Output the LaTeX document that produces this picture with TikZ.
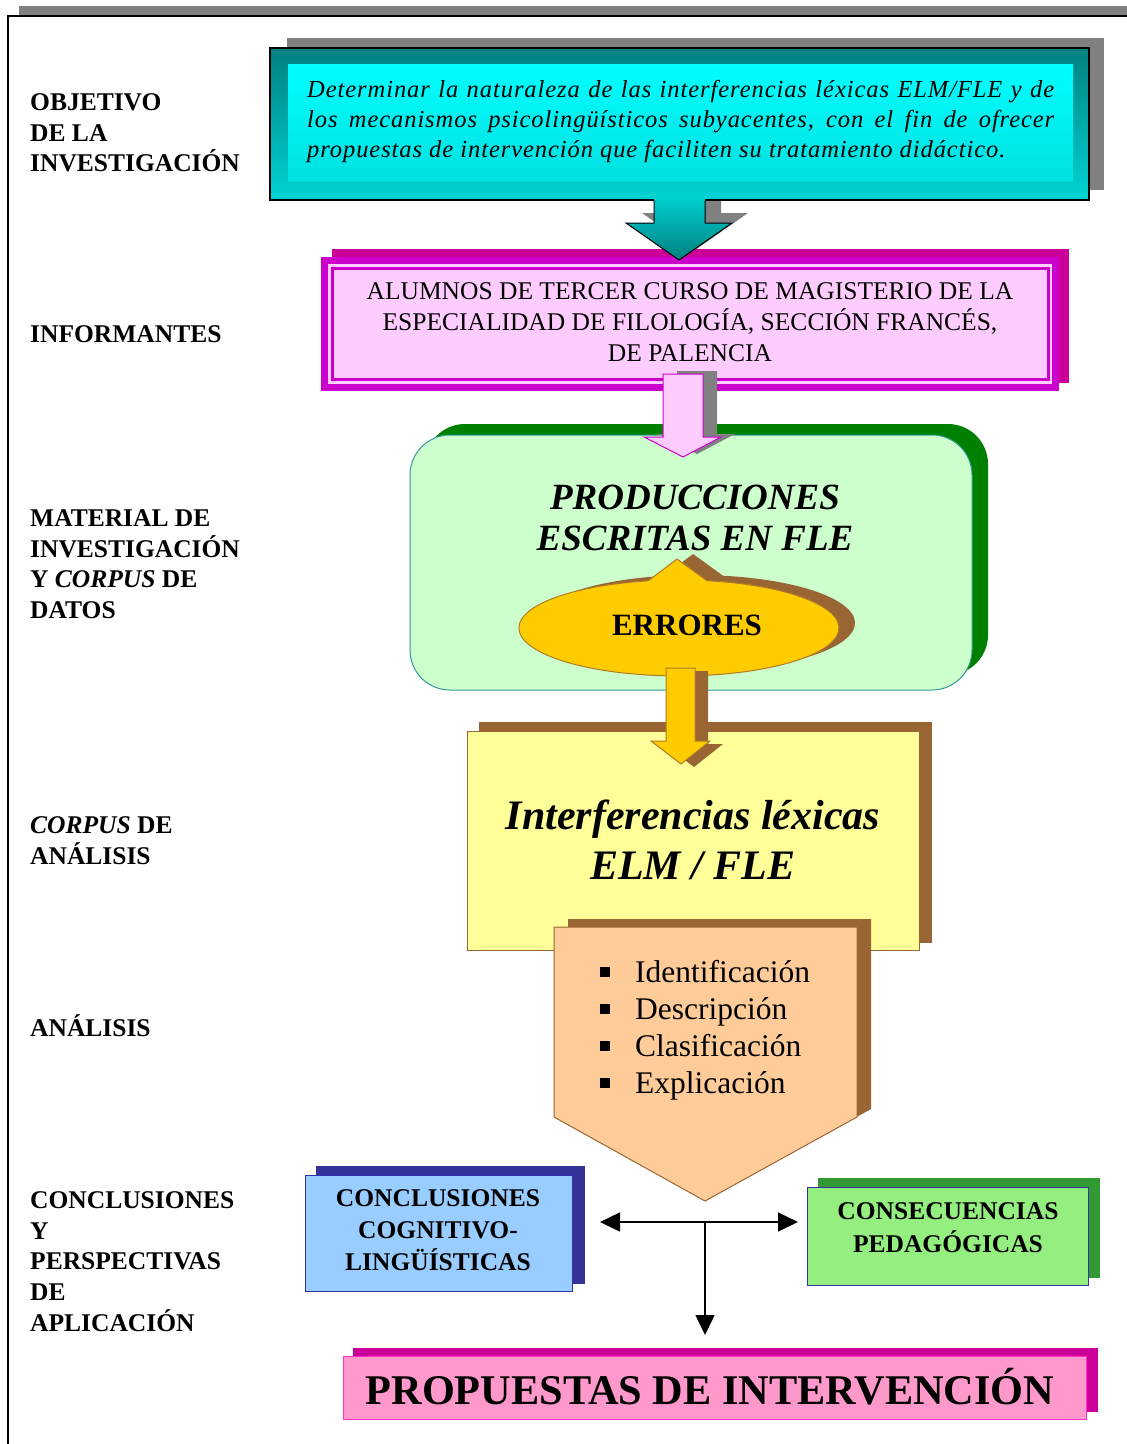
\documentclass[tikz,border=0pt]{standalone}
\usepackage{fontspec}
\setmainfont{Liberation Serif}
\usetikzlibrary{arrows.meta,calc}
\definecolor{shgray}{HTML}{808080}
\definecolor{tealdk}{HTML}{008080}
\definecolor{tealmd}{HTML}{00D4D4}
\definecolor{arrowtop}{HTML}{00CCCC}
\definecolor{cyanlt}{HTML}{00E0E0}
\definecolor{magm}{HTML}{CC00CC}
\definecolor{magsh}{HTML}{CC0099}
\definecolor{pinkl}{HTML}{FFCCFF}
\definecolor{grsh}{HTML}{008000}
\definecolor{grl}{HTML}{CCFFCC}
\definecolor{grbd}{HTML}{339999}
\definecolor{gold}{HTML}{FFCC00}
\definecolor{goldbd}{HTML}{B07A2A}
\definecolor{brown1}{HTML}{996633}
\definecolor{yell}{HTML}{FFFF99}
\definecolor{peach}{HTML}{FFCC99}
\definecolor{bluel}{HTML}{99CCFF}
\definecolor{bluesh}{HTML}{333399}
\definecolor{bluebd}{HTML}{3333AA}
\definecolor{greenl}{HTML}{95EE80}
\definecolor{greensh}{HTML}{339933}
\definecolor{pinkf}{HTML}{FF99CC}
\definecolor{pinkbd}{HTML}{FF33CC}
\newcommand\fsz[2]{\fontsize{#1pt}{#2pt}\selectfont}
\newcommand\tstrut[1]{\rule{0pt}{#1}}
\newcommand\bul{\makebox[35pt][l]{\raisebox{6pt}{\rule{9.5pt}{9.5pt}}}}
\tikzset{
  lbl/.style={anchor=north west, inner sep=0pt, align=left, font=\fsz{25.5}{30.6}\bfseries},
  lblone/.style={anchor=base west, inner sep=0pt, font=\fsz{25.5}{30.6}\bfseries},
  boxnode/.style={anchor=north west, inner sep=0pt, outer sep=0pt},
  txt/.style={anchor=north, inner sep=0pt, align=center},
  conn/.style={line width=1.5pt, draw=black, >={Triangle[length=20pt,width=19pt]}},
}
\begin{document}
\begin{tikzpicture}[x=1pt,y=-1pt]
\useasboundingbox (0,0) rectangle (1127,1444);
\clip (0,0) rectangle (1127,1444);
% frame
\fill[shgray] (19,6) rectangle (1140,16);
\draw[line width=1.3pt] (8,1460) -- (8,16) -- (1140,16);

% left labels
\node[lbl] (l1) at (30,86.5) {\tstrut{24pt}OBJETIVO\\DE LA\\INVESTIGACIÓN};
\node[lblone] (l2) at (30,342.5) {INFORMANTES};
\node[lbl] (l3) at (30,502.5) {\tstrut{24pt}MATERIAL DE\\INVESTIGACIÓN\\Y \textit{CORPUS} DE\\DATOS};
\node[lbl] (l4) at (30,809.5) {\tstrut{24pt}\textit{CORPUS} DE\\ANÁLISIS};
\node[lblone] (l5) at (30,1036.5) {ANÁLISIS};
\node[lbl] (l6) at (30,1184.5) {\tstrut{24pt}CONCLUSIONES\\Y\\PERSPECTIVAS\\DE\\APLICACIÓN};

% box 1 (objective)
\fill[shgray] (287,38) rectangle (1104,190);
\fill[shgray, shift={(16,-10)}] (654,210) -- (654,223) -- (626,223) -- (679,260) -- (732,223) -- (705,223) -- (705,210) -- cycle;
\node[boxnode, draw=black, line width=1.2pt, top color=tealdk, bottom color=tealmd, minimum width=819pt, minimum height=152pt] (obj) at (270,48) {};
\shade[top color=cyan, middle color=cyan, bottom color=cyanlt] (288,64) rectangle (1073,181);
\node[anchor=north west, inner sep=0pt, align=left, font=\fsz{24.5}{30}\itshape\addfontfeature{LetterSpace=3.8}] (objtxt) at (307,74.6)
 {\tstrut{23pt}\makebox[747pt][s]{Determinar la naturaleza de las interferencias léxicas ELM/FLE y de}\\
  \makebox[747pt][s]{los mecanismos psicolingüísticos subyacentes, con el fin de ofrecer}\\
  \makebox[747pt][l]{propuestas de intervención que faciliten su tratamiento didáctico.}};

% box 2 (informantes)
\fill[magsh] (332,249) rectangle (1069,383);
\node[boxnode, fill=magm, minimum width=738pt, minimum height=134pt] (inf) at (321,257) {};
\fill[pinkl] (328,264) rectangle (1052,383.5);
\fill[magm] (331,267) rectangle (1049.5,380.5);
\fill[pinkl] (333.5,269.5) rectangle (1047,378);
\node[txt, font=\fsz{25.5}{31}] (inftxt) at (690,275.5)
 {\tstrut{24pt}ALUMNOS DE TERCER CURSO DE MAGISTERIO DE LA\\ESPECIALIDAD DE FILOLOGÍA, SECCIÓN FRANCÉS,\\DE PALENCIA};

% arrow 1
\shade[top color=arrowtop, bottom color=tealdk] (654,199) -- (654,223) -- (626,223) -- (679,260) -- (732,223) -- (705,223) -- (705,199) -- cycle;
\draw[line width=1pt] (654,200.5) -- (654,223) -- (626,223) -- (679,260) -- (732,223) -- (705,223) -- (705,200.5);

% box 3 (producciones)
\fill[grsh, rounded corners=40pt] (425,424) rectangle (988,675);
\node[boxnode, draw=grbd, line width=1pt, fill=grl, rounded corners=40pt, minimum width=562pt, minimum height=255pt] (prod) at (410,435) {};
\node[txt, font=\fsz{37}{41}\bfseries\itshape] (prodtxt) at (695,474.3) {\tstrut{35pt}PRODUCCIONES\\ESCRITAS EN FLE};

% arrow 2
\fill[shgray, shift={(14,-3)}] (663,374) -- (663,437) -- (644,437) -- (683,457) -- (721,437) -- (703,437) -- (703,374) -- cycle;
\filldraw[fill=pinkl, draw=magm, line width=1pt] (663,374) -- (663,437) -- (644,437) -- (683,457) -- (721,437) -- (703,437) -- (703,374) -- cycle;

% errores callout
\fill[brown1, shift={(16,-5)}] (648,580.9) -- (677,559) -- (707,580.7) arc[start angle=-79.9, end angle=258.8, x radius=160, y radius=48] -- cycle;
\filldraw[fill=gold, draw=goldbd, line width=1pt] (648,580.9) -- (677,559) -- (707,580.7) arc[start angle=-79.9, end angle=258.8, x radius=160, y radius=48] -- cycle;
\node[inner sep=0pt, font=\fsz{31}{35}\bfseries] (err) at (687,625) {ERRORES};

% box 4 (interferencias)
\fill[brown1] (479,722) rectangle (932,943);
\node[boxnode, fill=yell, draw=brown1, line width=1pt, minimum width=452pt, minimum height=219pt] (intf) at (467,731) {};
\node[txt, font=\fsz{42}{50}\bfseries\itshape] (intftxt) at (693,789) {\tstrut{40pt}Interferencias léxicas\\ELM / FLE};

% arrow 3
\fill[brown1, shift={(13,3)}] (666,668) -- (666,741) -- (651,741) -- (681,764) -- (710,741) -- (695,741) -- (695,668) -- cycle;
\filldraw[fill=gold, draw=goldbd, line width=1pt] (666,668) -- (666,741) -- (651,741) -- (681,764) -- (710,741) -- (695,741) -- (695,668) -- cycle;

% pentagon (analisis)
\fill[brown1] (568,919) -- (871,919) -- (871,1109) -- (719,1193) -- (568,1109) -- cycle;
\filldraw[fill=peach, draw=brown1, line width=1pt] (554,927) -- (857,927) -- (857,1117) -- (705,1201) -- (554,1117) -- cycle;
\node[anchor=north west, inner sep=0pt, align=left, font=\fsz{31.5}{37}] (steps) at (600,953.3)
 {\tstrut{29pt}\bul Identificación\\\bul Descripción\\\bul Clasificación\\\bul Explicación};

% conclusiones
\fill[bluesh] (316,1166) rectangle (585,1284);
\node[boxnode, fill=bluel, draw=bluebd, line width=1pt, minimum width=267pt, minimum height=116pt] (conc) at (305,1175) {};
\node[txt, font=\fsz{25.5}{32}\bfseries] (conctxt) at (438,1182.5) {\tstrut{24pt}CONCLUSIONES\\COGNITIVO-\\LINGÜÍSTICAS};

% consecuencias
\fill[greensh] (818,1178) rectangle (1100,1278);
\node[boxnode, fill=greenl, draw=bluebd, line width=1pt, minimum width=281pt, minimum height=98pt] (cons) at (807,1187) {};
\node[txt, font=\fsz{25.5}{33}\bfseries] (constxt) at (948,1195.5) {\tstrut{24pt}CONSECUENCIAS\\PEDAGÓGICAS};

% propuestas
\fill[magsh] (353,1348) rectangle (1098,1412);
\node[boxnode, fill=pinkf, draw=pinkbd, line width=1pt, minimum width=743pt, minimum height=63pt] (prop) at (343,1356) {};
\node[anchor=base, inner sep=0pt, font=\fsz{42.3}{46}\bfseries] (proptxt) at (710,1404) {PROPUESTAS DE INTERVENCIÓN};

% connectors
\coordinate (jn) at (705,1222);
\draw[conn, <->, shorten <=28pt, shorten >=9pt] (conc.east |- jn) -- (cons.west |- jn);
\draw[conn, ->, shorten >=21pt] (jn) -- (prop.north -| jn);
\end{tikzpicture}
\end{document}
